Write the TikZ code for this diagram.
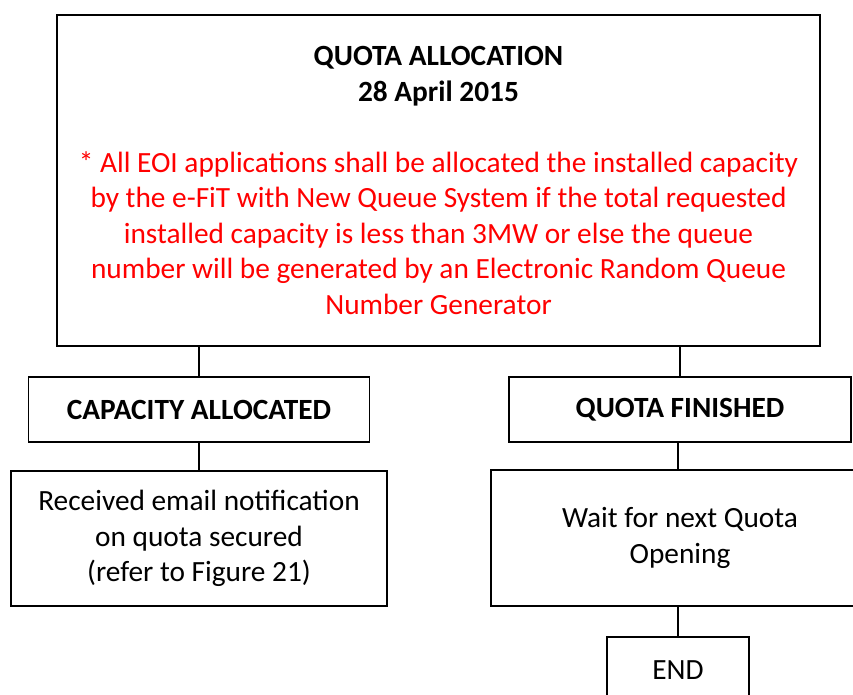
\documentclass[tikz,border=0pt]{standalone}
\usepackage{fontspec}
\setmainfont{Carlito}
\begin{document}
\begin{tikzpicture}[x=0.75pt,y=-0.75pt,
  every node/.style={font=\fontsize{22pt}{26.6pt}\selectfont},
  bigbox/.style={draw=black,line width=1.5pt,inner sep=0pt,align=center},
  flowbox/.style={draw=black,line width=1.2pt,inner sep=0pt,align=center},
  link/.style={draw=black,line width=1.5pt}]
\clip (0,0) rectangle (853,695);
\fill[white] (0,0) rectangle (853,695);
\node[bigbox,minimum width=572.25pt,minimum height=248.25pt,text=red] (top) at (438.5,180.5)
  {\textcolor{black}{\textbf{QUOTA ALLOCATION}}\\
   \textcolor{black}{\textbf{28 April 2015}}\\[26.6pt]
   * All EOI applications shall be allocated the installed capacity\\
   by the e-FiT with New Queue System if the total requested\\
   installed capacity is less than 3MW or else the queue\\
   number will be generated by an Electronic Random Queue\\
   Number Generator};
\node[flowbox,minimum width=255.75pt,minimum height=48.75pt] (ca) at (199,409.5) {\textbf{CAPACITY ALLOCATED}};
\node[flowbox,minimum width=256.5pt,minimum height=48.75pt] (qf) at (680,409.5) {\textbf{QUOTA FINISHED}};
\node[flowbox,minimum width=282pt,minimum height=101.25pt] (rec) at (199,538.5)
  {Received email notification\\on quota secured\\(refer to Figure 21)};
\node[flowbox,minimum width=283.5pt,minimum height=102pt] (wait) at (680,538)
  {Wait for next Quota\\Opening};
\node[flowbox,minimum width=106.5pt,minimum height=49.5pt] (end) at (678,670) {END};
\draw[link] (ca.north) -- (ca.north |- top.south);
\draw[link] (qf.north) -- (qf.north |- top.south);
\draw[link] (ca.south) -- (ca.south |- rec.north);
\draw[link] (end.north |- qf.south) -- (end.north |- wait.north);
\draw[link] (end.north) -- (end.north |- wait.south);
\end{tikzpicture}
\end{document}
